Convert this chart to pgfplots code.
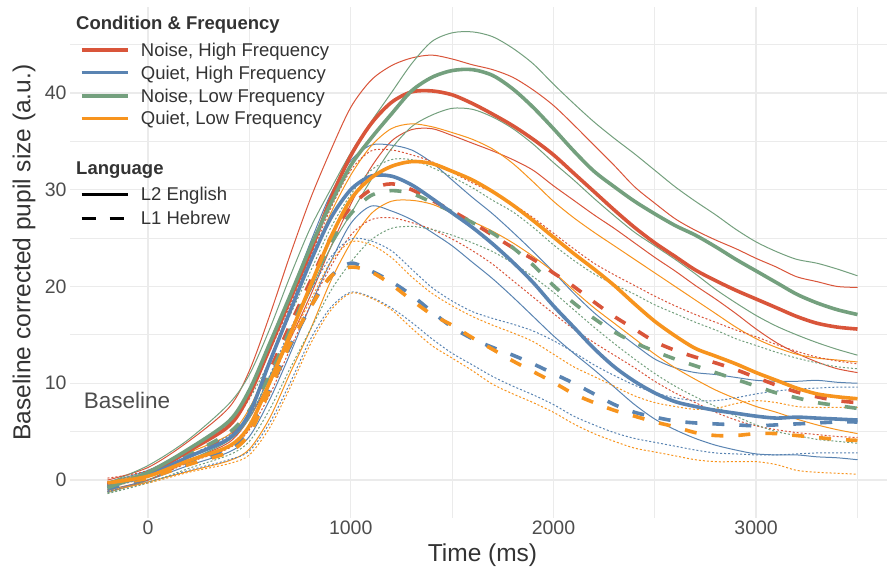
\documentclass[border=0pt]{standalone}
\usepackage{pgfplots}
\pgfplotsset{compat=1.18}
\usepackage{pgfplotstable}
\usepackage{fontspec}
\setmainfont{Liberation Sans}

\definecolor{cR}{HTML}{D9553A}
\definecolor{cB}{HTML}{5A84B2}
\definecolor{cG}{HTML}{74A07E}
\definecolor{cO}{HTML}{F7941E}
\definecolor{tickc}{HTML}{4D4D4D}
\definecolor{titc}{HTML}{333333}
\definecolor{gridc}{HTML}{EBEBEB}

% one column per curve, rows at the common time points (ms)
\pgfplotstableset{
 create on use/x/.style={create col/set list={-200,0,200,400,500,600,700,800,900,1000,1100,1200,1300,1400,1500,1600,1700,1800,1900,2000,2100,2200,2300,2400,2500,2600,2700,2800,2900,3000,3100,3200,3300,3400,3500}},
 % L2 English: mean, upper, lower
 create on use/rM/.style={create col/set list={-0.5,0.6,3.0,5.6,8.8,13.6,18.6,23.5,29.0,33.5,36.8,39.0,40.1,40.2,39.8,38.9,37.8,36.6,35.2,33.6,31.7,29.8,27.9,26.1,24.5,23.1,21.7,20.6,19.6,18.7,17.8,16.9,16.2,15.8,15.6}},
 create on use/rU/.style={create col/set list={0.0,1.3,4.0,7.5,11.3,17.0,23.2,29.0,34.0,38.5,41.3,42.8,43.6,43.9,43.5,42.9,42.4,41.6,40.3,38.7,36.7,34.6,32.5,30.3,28.6,27.0,25.8,24.8,23.9,22.9,22.0,21.0,20.5,20.0,19.9}},
 create on use/rL/.style={create col/set list={-1.0,0.0,2.0,3.9,6.4,10.2,14.5,19.0,24.0,28.5,32.3,35.0,36.2,36.3,35.6,34.8,34.0,33.1,32.0,30.4,28.9,27.4,26.0,24.5,23.0,21.6,20.1,18.7,17.2,15.6,14.2,13.1,12.2,11.5,11.1}},
 create on use/bM/.style={create col/set list={-0.6,0.5,2.4,4.3,6.9,12.2,17.4,22.5,27.0,30.0,31.4,31.4,30.5,29.1,27.6,26.1,24.4,22.5,20.4,18.0,15.8,13.6,11.7,10.2,9.0,8.1,7.6,7.2,6.9,6.6,6.4,6.5,6.4,6.3,6.2}},
 create on use/bU/.style={create col/set list={-0.2,1.0,3.2,5.9,8.9,13.7,19.0,24.5,29.5,33.0,34.6,34.6,34.1,32.8,31.0,29.2,27.5,25.6,23.6,21.5,19.3,17.3,15.6,14.0,12.5,11.6,11.1,10.9,10.6,10.3,10.2,10.2,10.3,10.1,10.0}},
 create on use/bL/.style={create col/set list={-1.1,0.0,1.5,2.9,4.5,8.3,13.0,18.0,22.5,26.5,28.3,27.8,26.9,25.6,24.2,22.5,20.8,18.9,16.9,14.9,13.1,11.4,9.6,7.8,6.3,5.2,4.3,3.6,3.1,2.7,2.6,2.6,2.4,2.3,2.1}},
 create on use/gM/.style={create col/set list={-0.8,0.8,3.2,6.1,9.3,14.1,19.0,24.0,28.5,32.5,35.3,37.8,40.2,41.6,42.3,42.4,41.8,40.4,38.5,36.3,34.0,31.9,30.3,28.8,27.5,26.3,25.3,24.1,22.8,21.6,20.4,19.2,18.3,17.6,17.1}},
 create on use/gU/.style={create col/set list={-0.3,1.5,4.2,7.9,10.9,15.6,21.0,26.0,30.0,33.8,37.0,40.0,43.0,45.3,46.2,46.3,45.8,44.6,43.0,40.9,38.9,37.0,35.3,33.7,32.0,30.3,28.8,27.4,25.9,24.6,23.6,22.8,22.4,21.8,21.1}},
 create on use/gL/.style={create col/set list={-1.3,0.0,2.0,4.1,6.4,10.7,15.0,19.5,24.0,27.5,31.0,34.2,36.5,37.7,38.4,38.3,37.5,36.3,34.7,32.8,31.0,29.1,27.3,25.6,24.2,22.8,21.3,19.7,18.3,17.0,15.9,15.0,14.2,13.5,12.9}},
 create on use/oM/.style={create col/set list={-0.3,0.4,2.0,3.5,5.6,10.1,15.0,20.0,25.0,29.0,31.2,32.4,32.9,32.7,31.9,31.0,29.8,28.4,26.8,25.1,23.4,21.8,20.1,18.2,16.4,14.9,13.6,12.8,12.0,11.1,10.3,9.5,8.9,8.6,8.4}},
 create on use/oU/.style={create col/set list={-0.2,0.8,2.8,4.7,7.4,12.1,17.3,22.5,27.5,31.5,34.5,36.3,36.8,36.5,35.9,35.2,34.2,32.7,30.8,28.8,27.1,25.6,24.2,22.8,21.4,20.0,18.6,17.2,15.8,14.6,13.7,13.0,12.6,12.4,12.2}},
 create on use/oL/.style={create col/set list={-1.2,-0.2,0.9,2.0,3.2,6.4,11.0,15.5,20.5,24.5,27.5,28.8,28.9,28.5,27.6,26.7,25.7,24.5,23.1,21.5,19.6,17.8,16.2,14.6,13.0,11.6,10.4,9.3,8.4,7.6,7.0,6.3,5.7,5.2,4.8}},
 % L1 Hebrew: mean, upper, lower
 create on use/rdM/.style={create col/set list={-0.4,0.5,2.5,4.6,7.0,11.3,16.0,20.5,25.0,28.2,30.0,30.6,30.0,28.9,27.8,26.6,25.3,24.0,22.8,21.4,20.0,18.4,16.9,15.6,14.3,13.4,12.7,12.1,11.4,10.6,9.8,9.1,8.6,8.2,8.0}},
 create on use/rdU/.style={create col/set list={0.2,1.0,3.2,6.0,8.9,13.3,18.0,23.0,28.0,32.0,34.0,34.1,33.6,32.9,31.8,30.7,29.7,28.5,27.1,25.5,23.9,22.4,21.2,20.1,19.0,18.0,17.1,16.3,15.5,14.8,14.0,13.3,12.7,12.3,12.0}},
 create on use/rdL/.style={create col/set list={-1.2,0.0,1.8,3.3,5.2,8.8,13.5,18.0,22.0,25.3,26.9,27.1,26.6,25.9,24.9,23.7,22.3,20.6,18.9,17.2,15.6,14.2,12.9,11.6,10.2,9.0,8.0,7.0,6.2,5.6,5.2,4.9,4.7,4.5,4.4}},
 create on use/bdM/.style={create col/set list={-0.9,0.2,1.8,3.1,5.4,9.3,13.8,17.8,21.0,22.4,21.6,20.5,19.1,17.4,15.8,14.6,13.7,12.9,12.0,11.0,10.0,8.9,7.8,7.0,6.5,6.1,5.9,5.8,5.7,5.6,5.7,5.8,5.9,6.0,6.0}},
 create on use/bdU/.style={create col/set list={-0.6,0.5,2.5,4.6,6.5,10.8,15.5,19.5,23.0,24.9,24.7,23.7,21.8,19.9,18.5,17.4,16.7,16.1,15.4,14.4,13.2,11.9,10.8,9.8,9.0,8.5,8.2,8.2,8.5,8.9,9.2,9.4,9.5,9.6,9.6}},
 create on use/bdL/.style={create col/set list={-1.2,-0.2,1.0,2.1,3.0,5.9,10.0,14.5,17.8,19.4,18.9,17.8,16.3,14.6,13.1,11.9,10.7,9.7,8.8,7.8,6.6,5.7,4.9,4.3,3.9,3.5,3.1,2.8,2.7,2.6,2.6,2.7,2.8,2.8,2.8}},
 create on use/gdM/.style={create col/set list={-0.6,0.6,2.6,4.9,7.2,10.8,15.5,20.0,24.5,27.5,29.4,29.9,29.6,28.7,27.7,26.6,25.5,24.0,22.2,20.1,18.3,16.7,15.3,14.2,13.3,12.5,11.8,11.1,10.4,9.7,9.0,8.5,8.0,7.7,7.4}},
 create on use/gdU/.style={create col/set list={-0.2,0.9,3.0,5.6,8.4,12.3,17.0,21.5,26.0,29.5,32.0,33.1,33.1,32.3,31.3,30.2,28.9,27.7,26.1,24.3,22.7,21.3,20.2,19.2,18.1,17.2,16.3,15.5,14.6,13.9,13.2,12.6,12.1,11.7,11.5}},
 create on use/gdL/.style={create col/set list={-1.4,-0.3,1.2,2.6,4.0,7.3,11.5,15.5,19.5,22.5,24.8,26.0,26.2,25.9,25.3,24.5,23.6,22.4,21.0,19.4,17.6,15.8,14.1,12.5,11.0,9.7,8.6,7.6,6.6,5.7,5.0,4.6,4.2,4.0,3.8}},
 create on use/odM/.style={create col/set list={-0.5,0.2,1.6,2.9,4.8,9.3,14.0,17.8,21.0,22.0,21.5,20.2,18.6,17.1,16.0,14.7,13.5,12.3,11.2,10.1,8.9,8.0,7.2,6.6,6.0,5.5,4.9,4.6,4.6,4.8,4.8,4.6,4.4,4.2,4.1}},
 create on use/odU/.style={create col/set list={-0.8,0.3,2.0,3.6,5.5,9.8,14.5,18.5,22.5,24.6,24.3,23.0,21.0,19.3,18.0,16.9,16.0,15.2,14.3,13.0,11.7,10.7,9.7,8.7,8.0,7.6,7.3,7.4,7.9,8.2,8.0,7.6,7.5,7.5,7.5}},
 create on use/odL/.style={create col/set list={-1.0,-0.3,0.8,1.7,2.6,5.4,9.5,14.0,17.5,19.3,18.8,17.6,15.7,13.9,12.6,11.3,9.9,8.9,8.0,7.0,5.8,4.8,4.0,3.3,2.9,2.5,2.1,1.9,1.9,1.9,1.6,1.0,0.8,0.7,0.6}},
}
\pgfplotstablenew[columns={x,rM,rU,rL,bM,bU,bL,gM,gU,gL,oM,oU,oL,rdM,rdU,rdL,bdM,bdU,bdL,gdM,gdU,gdL,odM,odU,odL}]{35}\data

\pgfplotsset{
 band/.style={line width=1.0pt, smooth, tension=0.5},
 dband/.style={line width=1.0pt, smooth, tension=0.5, dash pattern=on 2pt off 2pt},
 mean/.style={line width=3.6pt, smooth, tension=0.5},
 dmean/.style={line width=3.6pt, smooth, tension=0.5, dash pattern=on 12pt off 15pt},
}

\begin{document}
\begin{tikzpicture}
\useasboundingbox (0pt,0pt) rectangle (887pt,-570pt);
\begin{axis}[
  at={(70pt,-517.8pt)}, anchor=south west,
  scale only axis, width=825pt, height=511.1pt,
  xmin=-385, xmax=3685, ymin=-3.9, ymax=48.9,
  axis line style={draw=none},
  major tick length=0pt, minor tick length=0pt,
  xtick={0,1000,2000,3000}, xticklabels={0,1000,2000,3000},
  ytick={0,10,20,30,40}, yticklabels={0,10,20,30,40},
  minor xtick={500,1500,2500,3500},
  minor ytick={5,15,25,35,45},
  grid=both,
  major grid style={draw=gridc, line width=1.4pt},
  minor grid style={draw=gridc, line width=0.9pt},
  /pgf/number format/assume math mode=true,
  tick label style={font=\fontsize{19.5}{23}\selectfont, text=tickc},
  xlabel={Time (ms)},
  ylabel={Baseline corrected pupil size (a.u.)},
  label style={font=\fontsize{24.5}{29}\selectfont, text=titc},
  xlabel style={at={(axis description cs:0.5,-0.0855)}, anchor=base},
  ylabel style={at={(axis description cs:-0.0479,0.519)}, anchor=base},
  every axis plot/.append style={line join=round},
]
% confidence bands, L2 English (solid thin)
\addplot[band, cR] table[x=x,y=rU] {\data};
\addplot[band, cR] table[x=x,y=rL] {\data};
\addplot[band, cB] table[x=x,y=bU] {\data};
\addplot[band, cB] table[x=x,y=bL] {\data};
\addplot[band, cG] table[x=x,y=gU] {\data};
\addplot[band, cG] table[x=x,y=gL] {\data};
\addplot[band, cO] table[x=x,y=oU] {\data};
\addplot[band, cO] table[x=x,y=oL] {\data};
% confidence bands, L1 Hebrew (dotted thin)
\addplot[dband, cR] table[x=x,y=rdU] {\data};
\addplot[dband, cR] table[x=x,y=rdL] {\data};
\addplot[dband, cB] table[x=x,y=bdU] {\data};
\addplot[dband, cB] table[x=x,y=bdL] {\data};
\addplot[dband, cG] table[x=x,y=gdU] {\data};
\addplot[dband, cG] table[x=x,y=gdL] {\data};
\addplot[dband, cO] table[x=x,y=odU] {\data};
\addplot[dband, cO] table[x=x,y=odL] {\data};
% means, L1 Hebrew (dashed)
\addplot[dmean, cR] table[x=x,y=rdM] {\data};
\addplot[dmean, cB] table[x=x,y=bdM] {\data};
\addplot[dmean, cG] table[x=x,y=gdM] {\data};
\addplot[dmean, cO] table[x=x,y=odM] {\data};
% means, L2 English (solid)
\addplot[mean, cR] table[x=x,y=rM] {\data};
\addplot[mean, cB] table[x=x,y=bM] {\data};
\addplot[mean, cG] table[x=x,y=gM] {\data};
\addplot[mean, cO] table[x=x,y=oM] {\data};

\node[font=\fontsize{22.5}{27}\selectfont, text=tickc, inner sep=0pt] at (axis cs:-104,8.2) {Baseline};
\end{axis}

% legend
\begin{scope}[every node/.style={anchor=base west, inner sep=0pt, text=titc, font=\fontsize{18.5}{22}\selectfont}]
\node[font=\bfseries\fontsize{18.5}{22}\selectfont] at (76pt,-30pt) {Condition \& Frequency};
\draw[cR, line width=3.3pt] (81.7pt,-50pt) -- (128pt,-50pt);
\node at (140.7pt,-56.6pt) {Noise, High Frequency};
\draw[cB, line width=3.3pt] (81.7pt,-72.7pt) -- (128pt,-72.7pt);
\node at (140.7pt,-79.3pt) {Quiet, High Frequency};
\draw[cG, line width=3.3pt] (81.7pt,-96pt) -- (128pt,-96pt);
\node at (140.7pt,-102.6pt) {Noise, Low Frequency};
\draw[cO, line width=3.3pt] (81.7pt,-118.3pt) -- (128pt,-118.3pt);
\node at (140.7pt,-124.9pt) {Quiet, Low Frequency};
\node[font=\bfseries\fontsize{18.5}{22}\selectfont] at (76pt,-174pt) {Language};
\draw[black, line width=3.6pt] (81.7pt,-194.3pt) -- (128pt,-194.3pt);
\node at (140.7pt,-200.9pt) {L2 English};
\draw[black, line width=3.6pt, dash pattern=on 14.5pt off 13.5pt] (81.7pt,-218.3pt) -- (128pt,-218.3pt);
\node at (140.7pt,-224.9pt) {L1 Hebrew};
\end{scope}
\end{tikzpicture}
\end{document}
